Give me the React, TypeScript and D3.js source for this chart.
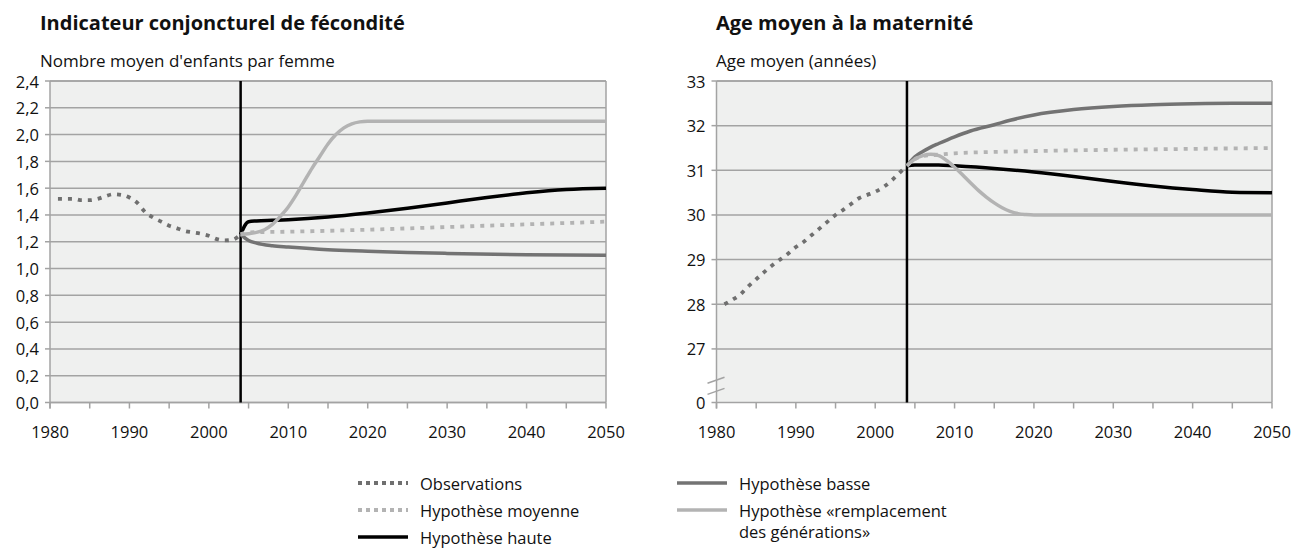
import React from 'react';
import * as d3 from 'd3';

const W = 1310;
const H = 549;

// ---------- shared axis data ----------
const xDomain: [number, number] = [1980, 2050];
const xTickYears = [1980, 1985, 1990, 1995, 2000, 2005, 2010, 2015, 2020, 2025, 2030, 2035, 2040, 2045, 2050];
const xLabelYears = [1980, 1990, 2000, 2010, 2020, 2030, 2040, 2050];
const splitYear = 2004;

// ---------- left panel: fertility ----------
const tfrTitle = 'Indicateur conjoncturel de fécondité';
const tfrSubtitle = "Nombre moyen d'enfants par femme";
const tfrTicks = [0, 0.2, 0.4, 0.6, 0.8, 1.0, 1.2, 1.4, 1.6, 1.8, 2.0, 2.2, 2.4];

const tfrObsYears = [1981, 1982, 1983, 1984, 1985, 1986, 1987, 1988, 1989, 1990, 1991, 1992, 1993, 1994, 1995, 1996, 1997, 1998, 1999, 2000, 2001, 2002, 2003, 2004];
const tfrObs = [1.52, 1.52, 1.52, 1.51, 1.51, 1.52, 1.54, 1.555, 1.55, 1.53, 1.49, 1.42, 1.38, 1.35, 1.32, 1.30, 1.28, 1.27, 1.26, 1.245, 1.22, 1.21, 1.215, 1.255];

const tfrHauteYears = [2004, 2005, 2006, 2008, 2010, 2015, 2020, 2025, 2030, 2035, 2040, 2045, 2050];
const tfrHaute = [1.255, 1.35, 1.355, 1.36, 1.365, 1.385, 1.415, 1.45, 1.49, 1.53, 1.565, 1.59, 1.60];

const tfrBasseYears = [2004, 2005, 2006, 2008, 2010, 2015, 2020, 2025, 2030, 2040, 2050];
const tfrBasse = [1.255, 1.21, 1.19, 1.17, 1.16, 1.14, 1.13, 1.12, 1.113, 1.103, 1.10];

const tfrMoyenneYears = [2004, 2005, 2010, 2020, 2030, 2040, 2050];
const tfrMoyenne = [1.255, 1.27, 1.275, 1.29, 1.31, 1.33, 1.35];

const tfrRemplYears = [2004, 2005, 2006, 2007, 2008, 2009, 2010, 2011, 2012, 2013, 2014, 2015, 2016, 2017, 2018, 2019, 2020, 2030, 2040, 2050];
const tfrRempl = [1.255, 1.26, 1.27, 1.29, 1.33, 1.39, 1.46, 1.55, 1.65, 1.75, 1.84, 1.93, 2.0, 2.05, 2.08, 2.095, 2.10, 2.10, 2.10, 2.10];

// ---------- right panel: mean age ----------
const ageTitle = 'Age moyen à la maternité';
const ageSubtitle = 'Age moyen (années)';
const ageTicks = [27, 28, 29, 30, 31, 32, 33];
const ageAxisMin = 25.8;
const ageAxisMinLabel = '0';

const ageObsYears = [1981, 1982, 1983, 1984, 1985, 1986, 1987, 1988, 1989, 1990, 1991, 1992, 1993, 1994, 1995, 1996, 1997, 1998, 1999, 2000, 2001, 2002, 2003, 2004];
const ageObs = [28.0, 28.1, 28.22, 28.4, 28.56, 28.72, 28.87, 29.0, 29.13, 29.28, 29.4, 29.55, 29.7, 29.85, 30.0, 30.12, 30.25, 30.38, 30.45, 30.52, 30.62, 30.76, 30.93, 31.1];

const ageBasseYears = [2004, 2005, 2006, 2007, 2008, 2010, 2012, 2015, 2017, 2020, 2025, 2030, 2035, 2040, 2045, 2050];
const ageBasse = [31.1, 31.3, 31.42, 31.52, 31.6, 31.75, 31.88, 32.02, 32.12, 32.24, 32.36, 32.43, 32.47, 32.49, 32.5, 32.5];

const ageMoyenneYears = [2004, 2005, 2006, 2008, 2010, 2020, 2030, 2040, 2050];
const ageMoyenne = [31.1, 31.25, 31.32, 31.35, 31.38, 31.43, 31.46, 31.48, 31.5];

const ageHauteYears = [2004, 2005, 2008, 2010, 2015, 2020, 2025, 2030, 2035, 2040, 2045, 2050];
const ageHaute = [31.1, 31.12, 31.12, 31.1, 31.04, 30.96, 30.86, 30.75, 30.65, 30.57, 30.51, 30.5];

const ageRemplYears = [2004, 2005, 2006, 2007, 2008, 2009, 2010, 2011, 2012, 2013, 2014, 2015, 2016, 2017, 2018, 2019, 2020, 2030, 2040, 2050];
const ageRempl = [31.1, 31.25, 31.33, 31.36, 31.33, 31.22, 31.07, 30.9, 30.72, 30.55, 30.4, 30.27, 30.16, 30.08, 30.03, 30.01, 30.0, 30.0, 30.0, 30.0];

// ---------- legend ----------
const legendLeft = ['Observations', 'Hypothèse moyenne', 'Hypothèse haute'];
const legendRight = ['Hypothèse basse', 'Hypothèse «remplacement', 'des générations»'];

// ---------- styles ----------
const FONT = "'Open Sans', sans-serif";
const TXT = 16.5;
const GRID = '#a3a3a3';
const BG = '#eff0ef';
type Style = { stroke: string; width: number; dash?: string };
const styles: Record<string, Style> = {
  obs: { stroke: '#6f6f6f', width: 3.8, dash: '4 6' },
  moyenne: { stroke: '#b3b3b3', width: 3.8, dash: '4 6' },
  haute: { stroke: '#000000', width: 3.5 },
  basse: { stroke: '#737373', width: 3.5 },
  rempl: { stroke: '#b3b3b3', width: 3.5 },
};

const fmtComma = (v: number) => d3.format('.1f')(v).replace('.', ',');

type Series = { key: string; years: number[]; values: number[] };

type PanelProps = {
  x0: number; x1: number; y0: number; y1: number;
  yDomain: [number, number];
  yTicks: number[];
  yFmt: (v: number) => string;
  title: string; subtitle: string;
  series: Series[];
  bottomLabel?: string;
  breakMarks?: boolean;
  titleX: number;
};

function Panel(p: PanelProps) {
  const x = d3.scaleLinear().domain(xDomain).range([p.x0, p.x1]);
  const y = d3.scaleLinear().domain(p.yDomain).range([p.y1, p.y0]);
  const line = (s: Series) =>
    d3.line<number>()
      .x((_, i) => x(s.years[i]))
      .y((v) => y(v))
      .curve(d3.curveMonotoneX)(s.values) || '';
  return (
    <g>
      <text x={p.titleX} y={30} fontFamily={FONT} fontWeight={700} fontSize={20} fill="#111">{p.title}</text>
      <text x={p.titleX} y={67} fontFamily={FONT} fontSize={17} fill="#111">{p.subtitle}</text>
      <rect x={p.x0} y={p.y0} width={p.x1 - p.x0} height={p.y1 - p.y0} fill={BG} />
      {p.yTicks.map((t) => (
        <g key={'g' + t}>
          <line x1={p.x0} x2={p.x1} y1={y(t)} y2={y(t)} stroke={GRID} strokeWidth={1.5} />
          <line x1={p.x0 - 5} x2={p.x0} y1={y(t)} y2={y(t)} stroke={GRID} strokeWidth={1.5} />
          <text x={p.x0 - 11} y={y(t)} textAnchor="end" dominantBaseline="central" fontFamily={FONT} fontSize={TXT} fill="#111">{p.yFmt(t)}</text>
        </g>
      ))}
      {p.bottomLabel !== undefined && (
        <g>
          <line x1={p.x0 - 5} x2={p.x0} y1={p.y1} y2={p.y1} stroke={GRID} strokeWidth={1.5} />
          <text x={p.x0 - 11} y={p.y1} textAnchor="end" dominantBaseline="central" fontFamily={FONT} fontSize={TXT} fill="#111">{p.bottomLabel}</text>
        </g>
      )}
      {/* frame */}
      <line x1={p.x0} x2={p.x1} y1={p.y0} y2={p.y0} stroke={GRID} strokeWidth={1.5} />
      <line x1={p.x1} x2={p.x1} y1={p.y0} y2={p.y1} stroke={GRID} strokeWidth={1.5} />
      <line x1={p.x0} x2={p.x0} y1={p.y0} y2={p.y1 + 6} stroke={GRID} strokeWidth={1.5} />
      <line x1={p.x0} x2={p.x1} y1={p.y1} y2={p.y1} stroke={GRID} strokeWidth={1.5} />
      {xTickYears.map((t) => (
        <line key={'xt' + t} x1={x(t)} x2={x(t)} y1={p.y1} y2={p.y1 + 6} stroke={GRID} strokeWidth={1.5} />
      ))}
      {xLabelYears.map((t) => (
        <text key={'xl' + t} x={x(t)} y={438} textAnchor="middle" fontFamily={FONT} fontSize={TXT} fill="#111">{t}</text>
      ))}
      {p.breakMarks && (
        <g stroke={GRID} strokeWidth={1.5}>
          <line x1={p.x0 - 9} x2={p.x0 + 8} y1={y(26.3) + 3} y2={y(26.3) - 3} />
          <line x1={p.x0 - 9} x2={p.x0 + 8} y1={y(26.05) + 3} y2={y(26.05) - 3} />
        </g>
      )}
      <line x1={x(splitYear)} x2={x(splitYear)} y1={p.y0} y2={p.y1} stroke="#000" strokeWidth={2.5} />
      {p.series.map((s) => {
        const st = styles[s.key];
        return (
          <path key={s.key} d={line(s)} fill="none" stroke={st.stroke} strokeWidth={st.width}
            strokeDasharray={st.dash} strokeLinejoin="round" />
        );
      })}
    </g>
  );
}

function LegendItem({ x, y, k, label }: { x: number; y: number; k: string; label: string }) {
  const st = styles[k];
  return (
    <g>
      <line x1={x} x2={x + 50} y1={y} y2={y} stroke={st.stroke} strokeWidth={st.width} strokeDasharray={st.dash ? '4 4' : undefined} />
      <text x={x + 62} y={y} dominantBaseline="central" fontFamily={FONT} fontSize={TXT} fill="#111">{label}</text>
    </g>
  );
}

export default function App() {
  const tfrSeries: Series[] = [
    { key: 'haute', years: tfrHauteYears, values: tfrHaute },
    { key: 'basse', years: tfrBasseYears, values: tfrBasse },
    { key: 'rempl', years: tfrRemplYears, values: tfrRempl },
    { key: 'moyenne', years: tfrMoyenneYears, values: tfrMoyenne },
    { key: 'obs', years: tfrObsYears, values: tfrObs },
  ];
  const ageSeries: Series[] = [
    { key: 'haute', years: ageHauteYears, values: ageHaute },
    { key: 'basse', years: ageBasseYears, values: ageBasse },
    { key: 'rempl', years: ageRemplYears, values: ageRempl },
    { key: 'moyenne', years: ageMoyenneYears, values: ageMoyenne },
    { key: 'obs', years: ageObsYears, values: ageObs },
  ];
  return (
    <svg width={W} height={H} style={{ position: 'absolute', left: 0, top: 0, background: '#fff' }}>
      <Panel x0={50} x1={606} y0={81} y1={402.5} yDomain={[0, 2.4]} yTicks={tfrTicks} yFmt={fmtComma}
        title={tfrTitle} subtitle={tfrSubtitle} series={tfrSeries} titleX={40} />
      <Panel x0={716.5} x1={1272} y0={81} y1={402.5} yDomain={[ageAxisMin, 33]} yTicks={ageTicks} yFmt={(v) => String(v)}
        title={ageTitle} subtitle={ageSubtitle} series={ageSeries} bottomLabel={ageAxisMinLabel} breakMarks titleX={716} />
      <LegendItem x={358} y={483} k="obs" label={legendLeft[0]} />
      <LegendItem x={358} y={510} k="moyenne" label={legendLeft[1]} />
      <LegendItem x={358} y={537} k="haute" label={legendLeft[2]} />
      <LegendItem x={677} y={483} k="basse" label={legendRight[0]} />
      <LegendItem x={677} y={510} k="rempl" label={legendRight[1]} />
      <text x={739} y={531} dominantBaseline="central" fontFamily={FONT} fontSize={TXT} fill="#111">{legendRight[2]}</text>
    </svg>
  );
}
